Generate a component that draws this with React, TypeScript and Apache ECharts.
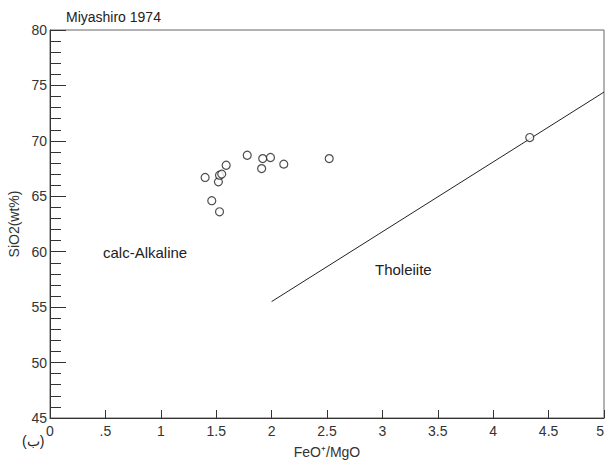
import React, { useEffect, useRef } from "react";
import * as echarts from "echarts";

const sampleX = [1.4, 1.46, 1.53, 1.52, 1.53, 1.55, 1.59, 1.78, 1.92, 1.99, 1.91, 2.11, 2.52, 4.33];
const sampleY = [66.7, 64.6, 63.6, 66.3, 66.9, 67.0, 67.8, 68.7, 68.4, 68.5, 67.5, 67.9, 68.4, 70.3];
const dividerX = [2, 5];
const dividerY = [55.5, 74.4];
const xTicks = [0, 0.5, 1, 1.5, 2, 2.5, 3, 3.5, 4, 4.5, 5];
const yTicks = [45, 50, 55, 60, 65, 70, 75, 80];

const FONT = "Liberation Sans, Arial, sans-serif";

export default function App() {
  const ref = useRef<HTMLDivElement>(null);
  useEffect(() => {
    if (!ref.current) return;
    const chart = echarts.init(ref.current, null, { renderer: "svg" });
    const xLabelMap: Record<string, string> = {};
    xTicks.forEach((v) => {
      xLabelMap[String(v)] = v === 0.5 ? ".5" : String(v);
    });
    chart.setOption({
      animation: false,
      backgroundColor: "#ffffff",
      textStyle: { fontFamily: FONT },
      grid: {
        left: 50,
        top: 30,
        right: 2,
        bottom: 46,
        containLabel: false,
        outerBoundsMode: "none",
        show: true,
        borderColor: "#666",
        borderWidth: 1,
        backgroundColor: "transparent",
      },
      xAxis: {
        type: "value",
        min: xTicks[0],
        max: xTicks[xTicks.length - 1],
        interval: 0.5,
        axisLine: { show: true, lineStyle: { color: "#333", width: 1 } },
        axisTick: { show: true, inside: true, length: 8, lineStyle: { color: "#333" } },
        splitLine: { show: false },
        axisLabel: {
          color: "#333",
          fontSize: 14,
          fontFamily: FONT,
          margin: 6,
          hideOverlap: false,
          showMinLabel: true,
          showMaxLabel: true,
          alignMaxLabel: "right",
          formatter: (v: number) => xLabelMap[String(v)] ?? String(v),
        },
        name: "FeO⁺/MgO",
        nameLocation: "middle",
        nameGap: 27,
        nameTextStyle: { color: "#333", fontSize: 14, fontFamily: FONT },
      },
      yAxis: {
        type: "value",
        min: yTicks[0],
        max: yTicks[yTicks.length - 1],
        interval: 5,
        axisLine: { show: true, lineStyle: { color: "#333", width: 1 } },
        axisTick: { show: true, inside: true, length: 16, lineStyle: { color: "#333" } },
        minorTick: { show: true, splitNumber: 5, length: 11, lineStyle: { color: "#333" } },
        splitLine: { show: false },
        axisLabel: { color: "#333", fontSize: 14, fontFamily: FONT, margin: 3 },
        name: "SiO2(wt%)",
        nameLocation: "middle",
        nameGap: 26,
        nameTextStyle: { color: "#333", fontSize: 14, fontFamily: FONT },
      },
      graphic: [
        {
          type: "text",
          left: 66,
          top: 10,
          style: { text: "Miyashiro 1974", fontSize: 14, fill: "#222", fontFamily: FONT },
        },
        {
          type: "text",
          left: 103,
          top: 245,
          style: { text: "calc-Alkaline", fontSize: 15, fill: "#222", fontFamily: FONT },
        },
        {
          type: "text",
          left: 375,
          top: 262,
          style: { text: "Tholeiite", fontSize: 15, fill: "#222", fontFamily: FONT },
        },
        {
          type: "text",
          left: 22,
          top: 434,
          style: { text: "(ب)", fontSize: 14, fill: "#222", fontFamily: FONT },
        },
      ],
      series: [
        {
          type: "line",
          data: dividerX.map((x, i) => [x, dividerY[i]]),
          showSymbol: false,
          symbol: "none",
          lineStyle: { color: "#222", width: 1 },
          z: 2,
        },
        {
          type: "scatter",
          data: sampleX.map((x, i) => [x, sampleY[i]]),
          symbol: "circle",
          symbolSize: 8,
          itemStyle: { color: "#ffffff", borderColor: "#222", borderWidth: 1.2 },
          z: 3,
        },
      ],
    });
    return () => chart.dispose();
  }, []);
  return (
    <div
      ref={ref}
      style={{ position: "fixed", left: 0, top: 0, width: 606, height: 464 }}
    />
  );
}
